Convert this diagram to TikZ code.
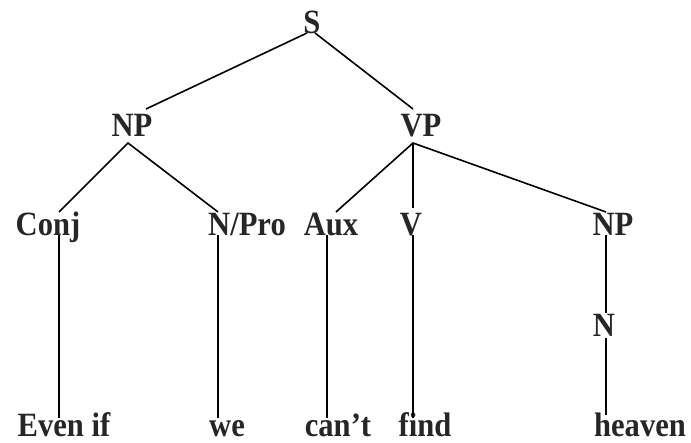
\documentclass[tikz,border=0pt]{standalone}
\usepackage{fontspec}
\newfontfamily\treefont[FakeStretch=0.9]{Liberation Serif}
\begin{document}
\begin{tikzpicture}[x=1pt,y=-1pt,
  lbl/.style={anchor=base,inner sep=0pt,text=black!85,font=\treefont\bfseries\fontsize{34}{34}\selectfont},
  branch/.style={line width=1.6pt,black}]
\useasboundingbox (0,0) rectangle (691,443);
% nodes
\node[lbl] (S) at (312,34) {S};
\node[lbl] (NP) at (132,137) {NP};
\node[lbl] (VP) at (421,137) {VP};
\node[lbl] (Conj) at (48,236) {Conj};
\node[lbl] (NPro) at (247,236) {N/Pro};
\node[lbl] (Aux) at (331,236) {Aux};
\node[lbl] (V) at (411,236) {V};
\node[lbl] (NPb) at (613,236) {NP};
\node[lbl] (N) at (604,337) {N};
\node[lbl] (w1) at (64,437) {Even if};
\node[lbl] (w2) at (227,437) {we};
\node[lbl] (w3) at (338,437) {can’t};
\node[lbl] (w4) at (425,437) {find};
\node[lbl] (w5) at (640,437) {heaven};
% attachment points
\coordinate (S-l) at (307,33);
\coordinate (S-r) at (315,33);
\coordinate (NP-t) at (146,109);
\coordinate (NP-b) at (128,143);
\coordinate (VP-t) at (413,109);
\coordinate (VP-b) at (413,143);
\coordinate (Conj-t) at (59,212);
\coordinate (Conj-b) at (59,235);
\coordinate (NPro-t) at (218,212);
\coordinate (NPro-b) at (218,235);
\coordinate (Aux-t) at (336,212);
\coordinate (Aux-b) at (327,235);
\coordinate (V-t) at (413,208);
\coordinate (V-b) at (413,235);
\coordinate (NPb-t) at (606,212);
\coordinate (NPb-b) at (606,235);
\coordinate (N-t) at (606,313);
\coordinate (N-b) at (606,338);
\coordinate (w1-t) at (59,418);
\coordinate (w2-t) at (218,418);
\coordinate (w3-t) at (327,418);
\coordinate (w4-t) at (413,418);
\coordinate (w5-t) at (606,415);
% connectors
\draw[branch] (S-l) -- (NP-t);
\draw[branch] (S-r) -- (VP-t);
\draw[branch] (Conj-t) -- (NP-b) -- (NPro-t);
\draw[branch] (Aux-t) -- (VP-b) -- (NPb-t);
\draw[branch] (VP-b) -- (V-t);
\draw[branch] (Conj-b) -- (w1-t);
\draw[branch] (NPro-b) -- (w2-t);
\draw[branch] (Aux-b) -- (w3-t);
\draw[branch] (V-b) -- (w4-t);
\draw[branch] (NPb-b) -- (N-t);
\draw[branch] (N-b) -- (w5-t);
\end{tikzpicture}
\end{document}
